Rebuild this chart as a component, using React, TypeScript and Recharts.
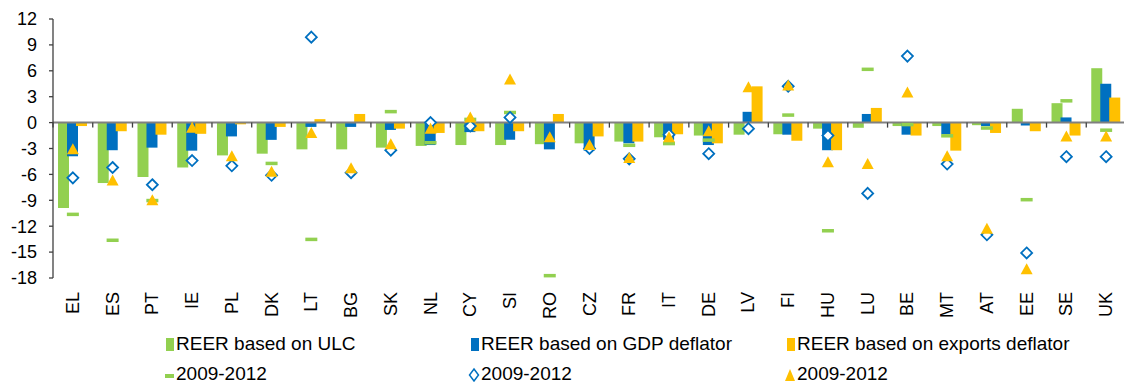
import { Bar, ComposedChart, Line, ReferenceLine, XAxis, YAxis } from "recharts";

const countries = ["EL", "ES", "PT", "IE", "PL", "DK", "LT", "BG", "SK", "NL", "CY", "SI", "RO", "CZ", "FR", "IT", "DE", "LV", "FI", "HU", "LU", "BE", "MT", "AT", "EE", "SE", "UK"];

// bars
const reerUlc = [-9.9, -7.0, -6.3, -5.2, -3.8, -3.6, -3.1, -3.1, -2.9, -2.7, -2.6, -2.6, -2.5, -2.4, -2.2, -1.7, -1.5, -1.4, -1.35, -0.7, -0.6, -0.4, -0.4, -0.3, 1.6, 2.25, 6.3];
const reerGdp = [-3.9, -3.2, -2.9, -3.25, -1.6, -2.0, -0.5, -0.5, -0.85, -2.6, -1.1, -2.0, -3.1, -3.25, -2.4, -2.0, -2.6, 1.25, -1.4, -3.2, 1.0, -1.4, -1.35, -0.4, -0.35, 0.6, 4.5];
const reerExp = [-0.4, -1.0, -1.4, -1.3, -0.2, -0.5, 0.4, 1.0, -0.7, -1.2, -1.0, -1.0, 1.0, -1.6, -2.2, -1.35, -2.4, 4.2, -2.1, -3.2, 1.7, -1.5, -3.25, -1.2, -1.0, -1.5, 2.9];

// 2009-2012 markers
const ulc0912 = [-10.6, -13.6, -9.0, null, null, -4.7, -13.5, null, 1.3, -2.3, 0.4, 1.2, -17.7, null, -2.6, -2.4, -2.0, null, 0.9, -12.5, 6.2, -0.2, -1.5, -0.6, -8.9, 2.55, -0.85];
const gdp0912 = [-6.4, -5.2, -7.2, -4.4, -5.0, -6.1, 9.9, -5.8, -3.2, 0.0, -0.4, 0.6, null, -3.0, -4.2, -1.4, -3.6, -0.7, 4.2, -1.5, -8.2, 7.7, -4.8, -13.0, -15.1, -3.95, -3.95];
const exp0912 = [-3.1, -6.7, -9.0, -0.6, -3.9, -5.7, -1.2, -5.3, -2.5, -0.7, 0.6, 5.0, -1.7, -2.6, -4.1, -1.7, -1.0, 4.1, 4.3, -4.6, -4.8, 3.5, -3.9, -12.3, -17.0, -1.6, -1.6];

const yTicks = [-18, -15, -12, -9, -6, -3, 0, 3, 6, 9, 12];

const GREEN = "#92D050";
const BLUE = "#0070C0";
const YELLOW = "#FFC000";
const FONT = "'Liberation Sans', Arial, sans-serif";

const W = 1126;
const H = 386;
const M_TOP = 19;
const M_LEFT = 8;
const Y_W = 45;
const X_H = 108;
const PLOT_W = W - M_LEFT - Y_W;
const PLOT_H = H - M_TOP - X_H;
const BAND = PLOT_W / countries.length;
const ZERO_Y = M_TOP + (PLOT_H * 12) / 30;

const rows = countries.map((name, i) => ({
  name,
  ulc: reerUlc[i],
  gdp: reerGdp[i],
  exp: reerExp[i],
  ulc09: ulc0912[i],
  gdp09: gdp0912[i],
  exp09: exp0912[i],
}));

function XTick(props: any) {
  const { x, y, payload, index } = props;
  const left = x - BAND / 2;
  return (
    <g>
      <line x1={left} x2={left} y1={ZERO_Y} y2={ZERO_Y + 5} stroke="#404040" strokeWidth={1.3} />
      {index === countries.length - 1 && (
        <line x1={left + BAND} x2={left + BAND} y1={ZERO_Y} y2={ZERO_Y + 5} stroke="#404040" strokeWidth={1.3} />
      )}
      <text
        transform={`translate(${x},${y + 14}) rotate(-90)`}
        textAnchor="end"
        dominantBaseline="central"
        fontSize={18}
        fontFamily={FONT}
        fill="#000"
      >
        {payload.value}
      </text>
    </g>
  );
}

function DashDot({ cx, cy, value }: any) {
  if (value == null || cy == null) return <g />;
  return <rect x={cx - 6} y={cy - 1.5} width={12} height={3.5} fill={GREEN} />;
}

function DiamondDot({ cx, cy, value }: any) {
  if (value == null || cy == null) return <g />;
  const r = 5.5;
  return (
    <path
      d={`M${cx},${cy - r} L${cx + r},${cy} L${cx},${cy + r} L${cx - r},${cy} Z`}
      fill="#fff"
      stroke={BLUE}
      strokeWidth={1.8}
    />
  );
}

function TriangleDot({ cx, cy, value }: any) {
  if (value == null || cy == null) return <g />;
  return (
    <path
      d={`M${cx},${cy - 6} L${cx + 6},${cy + 5} L${cx - 6},${cy + 5} Z`}
      fill={YELLOW}
    />
  );
}

function LegendIcon({ kind }: { kind: string }) {
  return (
    <svg width={12} height={16} style={{ display: "block" }}>
      {kind === "green" && <rect x={3} y={2} width={8} height={13} fill={GREEN} />}
      {kind === "blue" && <rect x={3} y={2} width={8} height={13} fill={BLUE} />}
      {kind === "yellow" && <rect x={3} y={2} width={8} height={13} fill={YELLOW} />}
      {kind === "dash" && <rect x={2} y={8} width={9} height={4} fill={GREEN} />}
      {kind === "diamond" && <path d="M6,3 L10.5,9 L6,15 L1.5,9 Z" fill="#fff" stroke={BLUE} strokeWidth={1.5} />}
      {kind === "triangle" && <path d="M6,3 L11,15 L1,15 Z" fill={YELLOW} />}
    </svg>
  );
}

const legendItems = [
  { kind: "green", label: "REER based on ULC", left: 163, top: 334 },
  { kind: "blue", label: "REER based on GDP deflator", left: 468, top: 334 },
  { kind: "yellow", label: "REER based on exports deflator", left: 784, top: 334 },
  { kind: "dash", label: "2009-2012", left: 163, top: 364 },
  { kind: "diamond", label: "2009-2012", left: 468, top: 364 },
  { kind: "triangle", label: "2009-2012", left: 784, top: 364 },
];

export default function App() {
  return (
    <div style={{ position: "absolute", left: 0, top: 0, width: 1124, height: 386, overflow: "hidden", background: "#fff" }}>
      <ComposedChart width={W} height={H} data={rows} margin={{ top: M_TOP, right: 0, bottom: 0, left: M_LEFT }} barGap={-2}>
        <XAxis dataKey="name" height={X_H} axisLine={false} tickLine={false} tickSize={0} tickMargin={0} interval={0} tick={<XTick />} />
        <YAxis
          domain={[-18, 12]}
          ticks={yTicks}
          interval={0}
          width={Y_W}
          tickSize={4}
          tickMargin={12}
          axisLine={{ stroke: "#404040", strokeWidth: 1.3 }}
          tickLine={{ stroke: "#404040", strokeWidth: 1.3 }}
          tick={{ fontSize: 18, fontFamily: FONT, fill: "#000" }}
          allowDataOverflow
        />
        <Bar dataKey="ulc" fill={GREEN} barSize={11} isAnimationActive={false} />
        <Bar dataKey="gdp" fill={BLUE} barSize={11} isAnimationActive={false} />
        <Bar dataKey="exp" fill={YELLOW} barSize={11} isAnimationActive={false} />
        <ReferenceLine y={0} stroke="#808080" strokeWidth={2} />
        <Line dataKey="ulc09" stroke="none" dot={<DashDot />} activeDot={false} isAnimationActive={false} />
        <Line dataKey="gdp09" stroke="none" dot={<DiamondDot />} activeDot={false} isAnimationActive={false} />
        <Line dataKey="exp09" stroke="none" dot={<TriangleDot />} activeDot={false} isAnimationActive={false} />
      </ComposedChart>
      {legendItems.map((it, i) => (
        <div
          key={i}
          style={{ position: "absolute", left: it.left, top: it.top, display: "flex", alignItems: "center", fontFamily: FONT, fontSize: 19, color: "#000", lineHeight: "20px", whiteSpace: "nowrap" }}
        >
          <LegendIcon kind={it.kind} />
          <span style={{ marginLeft: 1 }}>{it.label}</span>
        </div>
      ))}
    </div>
  );
}
